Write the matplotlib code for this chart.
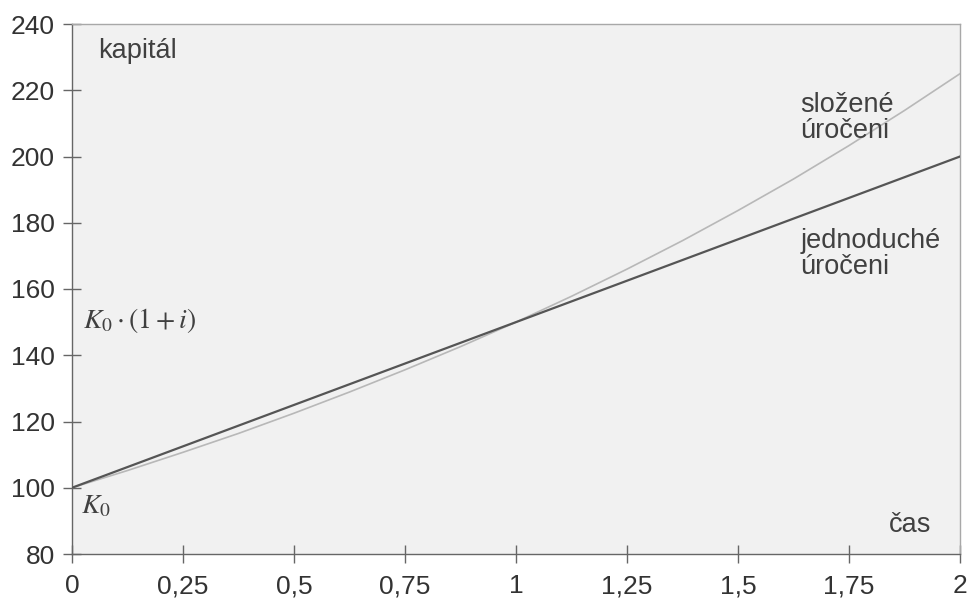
import matplotlib
matplotlib.use("Agg")
import matplotlib.pyplot as plt

plt.rcParams['font.family'] = ['Liberation Sans', 'DejaVu Sans']
plt.rcParams['mathtext.fontset'] = 'stix'

# data
t_simple = [0, 2]
simple = [100, 200]
t_comp = [0, 0.125, 0.25, 0.375, 0.5, 0.625, 0.75, 0.875, 1.0,
          1.125, 1.25, 1.375, 1.5, 1.625, 1.75, 1.875, 2.0]
compound = [100, 105.2, 110.7, 116.4, 122.5, 128.9, 135.6, 142.6, 150.0,
            157.8, 166.0, 174.6, 183.7, 193.2, 203.3, 213.9, 225.0]
x_ticks = [0, 0.25, 0.5, 0.75, 1, 1.25, 1.5, 1.75, 2]
x_labels = ['0', '0,25', '0,5', '0,75', '1', '1,25', '1,5', '1,75', '2']
y_ticks = [80, 100, 120, 140, 160, 180, 200, 220, 240]

fig = plt.figure(figsize=(9.72, 5.99), dpi=100)
ax = fig.add_axes([72/972, 1-554/599, (960-72)/972, (554-24)/599])
ax.set_facecolor('#f1f1f1')

ax.plot(t_comp, compound, color='#b8b8b8', lw=1.2, zorder=3)
ax.plot(t_simple, simple, color='#555555', lw=1.6, zorder=4)

ax.set_xlim(0, 2)
ax.set_ylim(80, 240)
ax.set_xticks(x_ticks)
ax.set_xticklabels(x_labels)
ax.set_yticks(y_ticks)
ax.tick_params(direction='inout', length=13, width=1, color='#666666',
               labelsize=19, labelcolor='#333333')
ax.tick_params(axis='y', pad=6)
ax.tick_params(axis='x', pad=8)

for s in ['left', 'bottom']:
    ax.spines[s].set_color('#666666')
    ax.spines[s].set_linewidth(1.0)
for s in ['top', 'right']:
    ax.spines[s].set_color('#a8a8a8')
    ax.spines[s].set_linewidth(1.0)

tc = '#404040'
ax.text(0.058, 232, 'kapitál', fontsize=19.5, color=tc, ha='left', va='center')
ax.text(1.64, 211.5, 'složené\núročeni', fontsize=19.5, color=tc, ha='left',
        va='center', linespacing=1.0)
ax.text(1.64, 170.5, 'jednoduché\núročeni', fontsize=19.5, color=tc, ha='left',
        va='center', linespacing=1.0)
ax.text(1.84, 88.8, 'čas', fontsize=19.5, color=tc, ha='left', va='center')
ax.text(0.025, 150.5, r'$K_0\cdot(1+i)$', fontsize=20, color=tc, ha='left',
        va='center')
ax.text(0.02, 94.5, r'$K_0$', fontsize=20, color=tc, ha='left', va='center')

fig.savefig('out.png', dpi=100, facecolor='white')
